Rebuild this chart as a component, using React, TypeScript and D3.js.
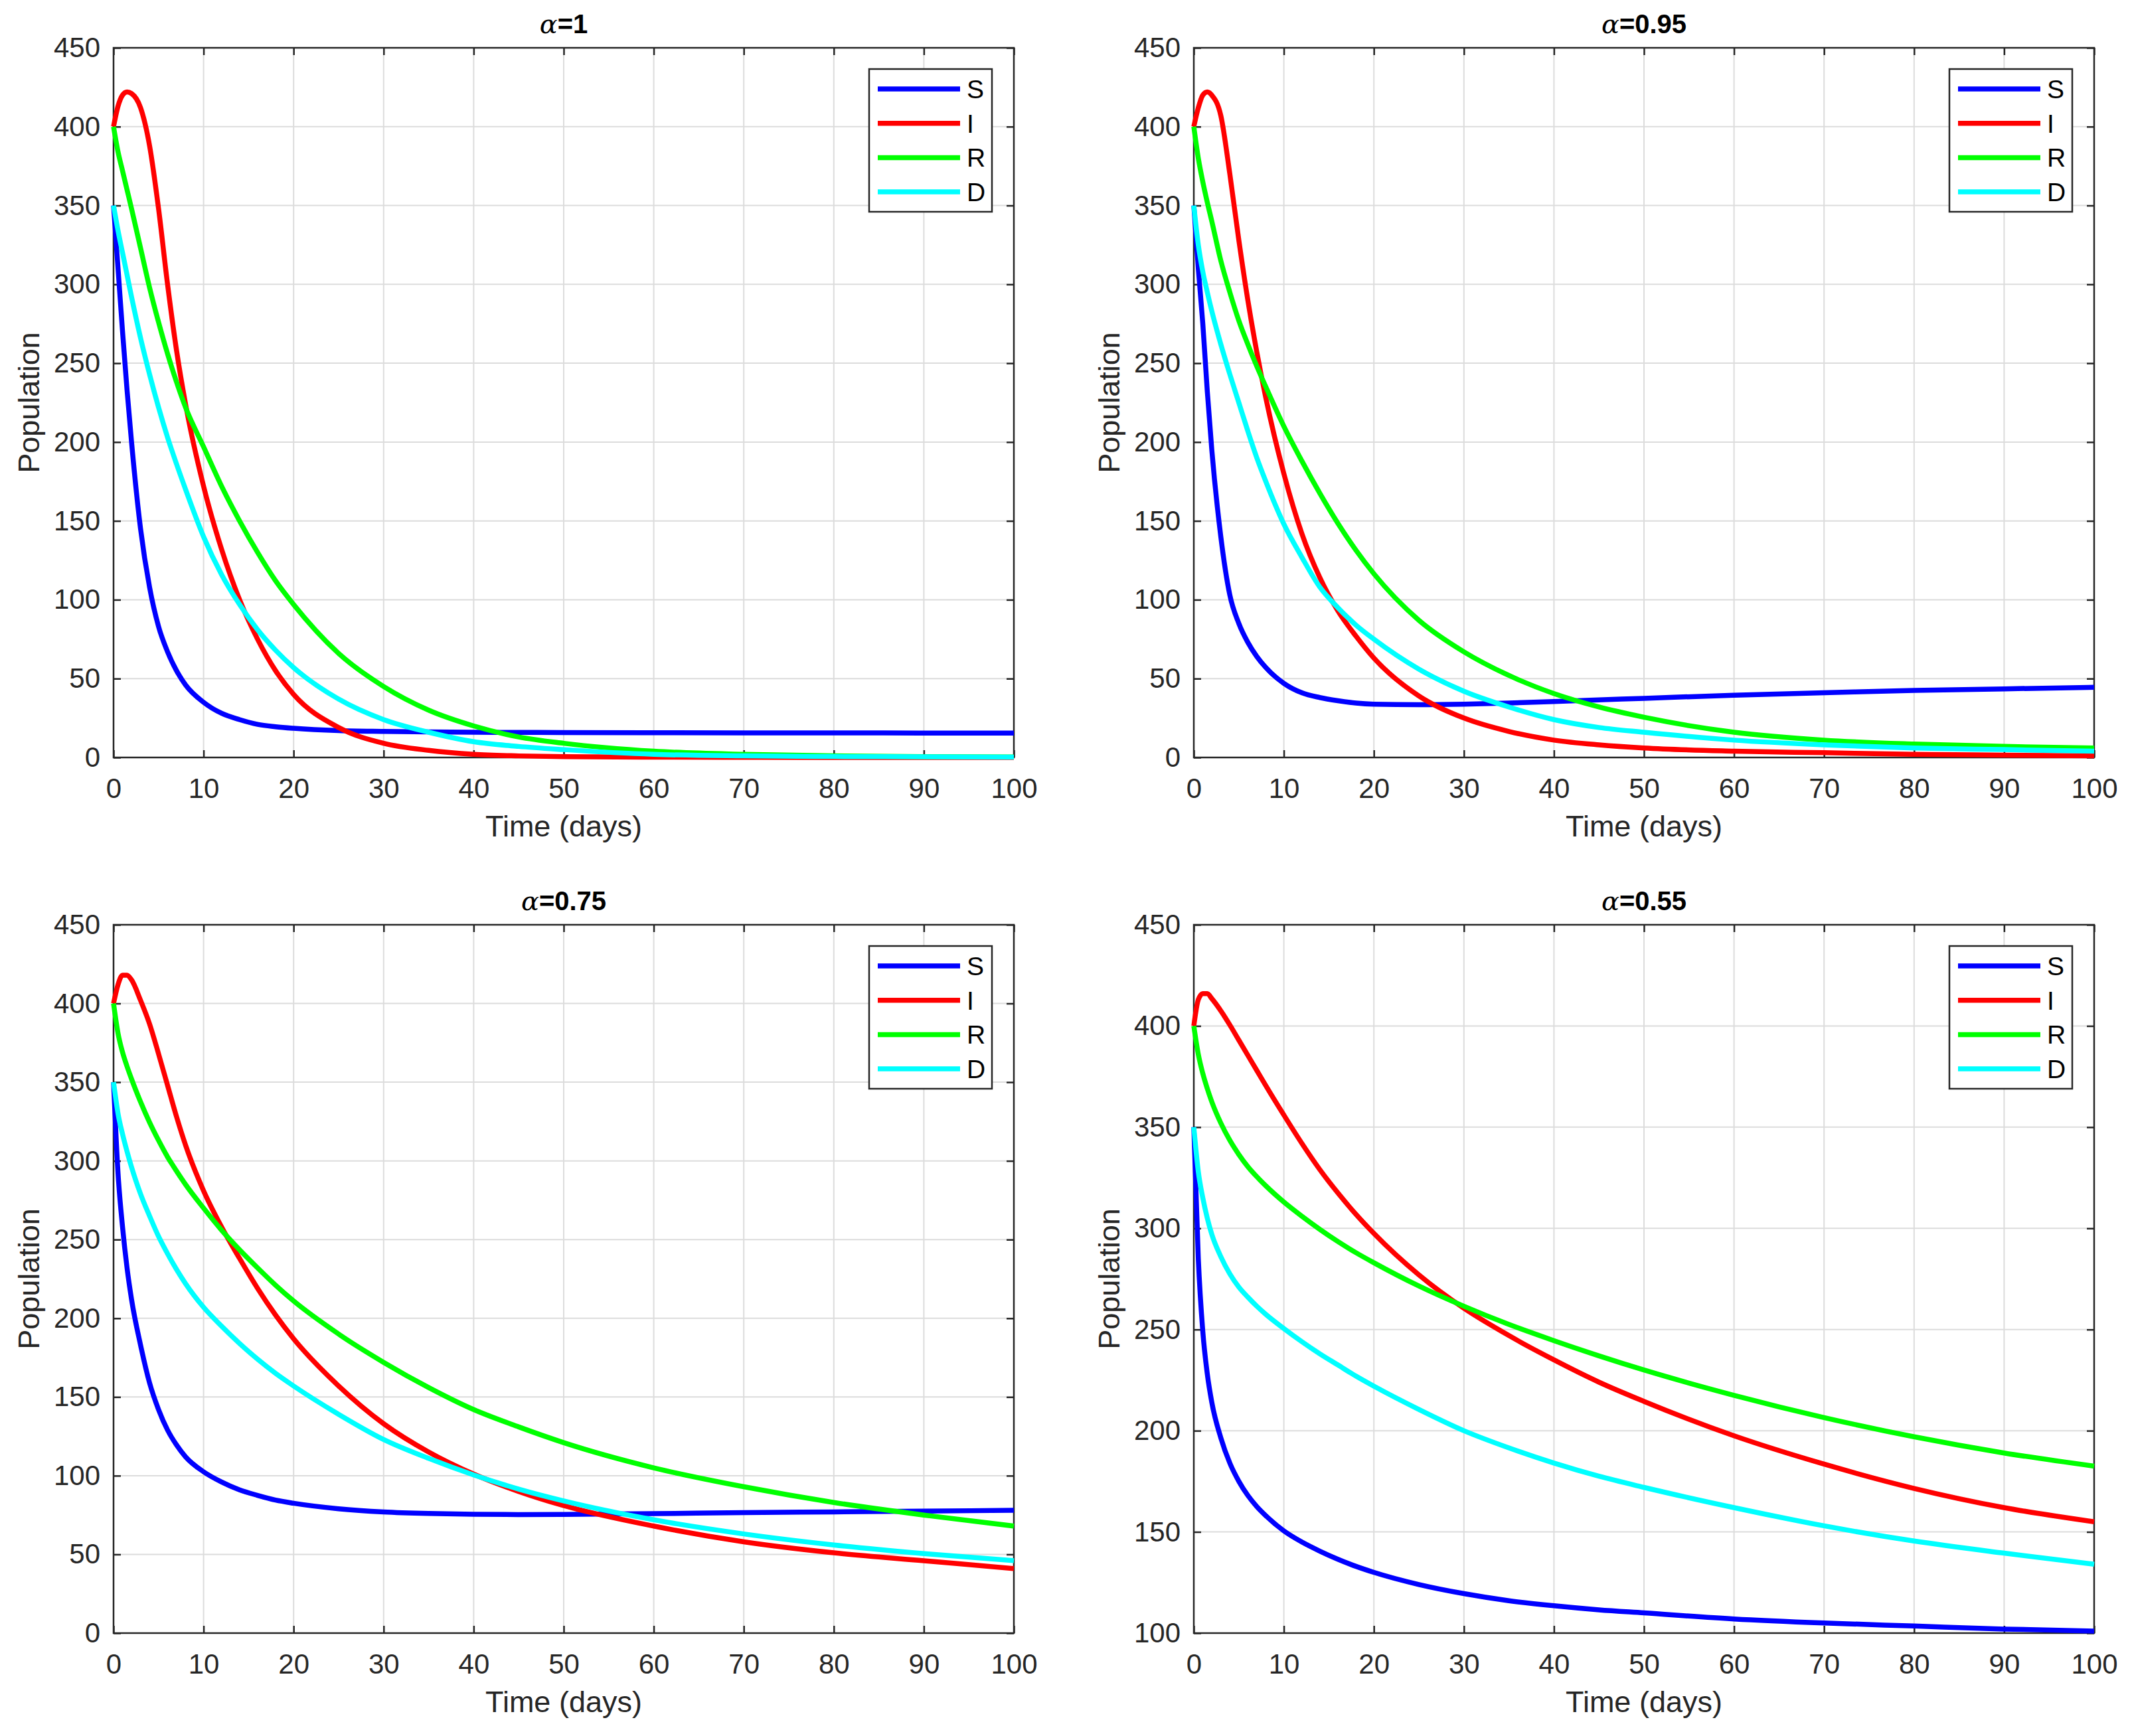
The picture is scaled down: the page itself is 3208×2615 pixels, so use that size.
import React, { useEffect, useRef } from "react";
import * as d3 from "d3";

// time grid (days) the curves were read at
const TIME = [0, 0.5, 1, 1.5, 2, 3, 4, 5, 6, 7, 8, 10, 12, 14, 16, 18, 20, 25, 30, 35, 40, 45, 50, 60, 70, 80, 90, 100];

// alpha = 1
const S_A1 = [350, 310, 270, 233, 200, 145, 108, 83, 67, 55, 46, 35, 28, 24, 21, 19.5, 18.5, 17, 16.5, 16.2, 16, 15.9, 15.8, 15.7, 15.6, 15.6, 15.5, 15.5];
const I_A1 = [400, 413, 420, 422, 421, 412, 388, 348, 300, 258, 224, 172, 132, 100, 75, 55, 40, 19, 9, 4.5, 2, 1, 0.5, 0.2, 0.1, 0, 0, 0];
const R_A1 = [400, 384, 372, 360, 348, 323, 298, 276, 256, 238, 222, 197, 172, 150, 130, 112, 97, 66, 45, 30, 20, 13, 9, 4, 2, 1, 0.5, 0.3];
const D_A1 = [350, 334, 320, 306, 292, 266, 243, 222, 203, 186, 170, 140, 116, 97, 81, 68, 57, 37, 24, 16, 10, 7, 5, 2, 1, 0.6, 0.4, 0.2];

// alpha = 0.95
const S_A2 = [350, 310, 275, 232, 195, 140, 103, 85, 73, 64, 57, 47, 41, 38, 36, 34.5, 33.8, 33.5, 33.8, 34.5, 35.5, 36.5, 37.5, 39.5, 41, 42.5, 43.5, 44.5];
const I_A2 = [400, 412, 420, 422, 420, 407, 370, 328, 290, 257, 228, 180, 142, 114, 93, 77, 63, 39, 25, 16.5, 11, 8, 6, 4, 3, 2, 1.5, 1];
const R_A2 = [400, 380, 365, 352, 340, 315, 295, 277, 262, 248, 235, 210, 188, 167.5, 148.5, 131.5, 116.5, 87, 67, 52, 40.5, 32, 25.5, 16, 11, 8.5, 7, 6];
const D_A2 = [350, 325, 308, 295, 283, 262, 243, 225, 207, 190, 175, 148, 127, 108, 95, 84, 75, 56, 42, 32, 24, 19, 16, 11, 8, 6, 5, 4];

// alpha = 0.75
const S_A3 = [350, 292, 258, 232, 212, 183, 159, 142, 129, 119.5, 112, 102.5, 96, 91, 87.5, 84.5, 82.5, 79, 77, 76, 75.5, 75.3, 75.4, 75.9, 76.5, 77, 77.5, 78];
const I_A3 = [400, 412, 418, 418, 415, 402, 387, 368, 348, 328, 310, 281, 258, 238, 219, 202, 187, 157, 133, 115, 101, 90, 81, 68, 58, 51, 46, 41];
const R_A3 = [400, 381, 369, 360, 352, 337.5, 324.5, 313, 302.5, 293.5, 285, 270, 256, 243.5, 232, 221, 211, 190, 172, 156, 142, 131, 121, 105, 93, 83, 75, 68];
const D_A3 = [350, 330, 317, 306, 296, 279, 265, 252, 241, 231, 222, 207, 195, 184, 174, 165, 157, 139, 123, 111, 100.5, 91.5, 84, 72, 63, 56, 50.5, 46];

// alpha = 0.55
const S_A4 = [350, 285, 249, 228, 214, 196.5, 184, 175, 168, 162.5, 158, 150.5, 145, 140.5, 136.5, 133, 130, 124, 119.5, 116, 113.5, 111.5, 110, 107, 105, 103.5, 102, 101];
const I_A4 = [400, 413, 416, 416, 413.5, 407.5, 400.5, 393, 385.5, 378, 370.5, 356, 342, 329, 317.5, 307, 297.5, 277, 260.5, 247, 235, 224, 214.5, 197.5, 183.5, 171.5, 162, 155];
const R_A4 = [400, 386, 376.5, 369, 362.5, 352, 343.5, 336.5, 330.5, 325.5, 321, 313, 306, 299.5, 293.5, 288, 283, 271.5, 261.5, 252.5, 244.5, 237, 230, 217.5, 206.5, 197, 189, 182.5];
const D_A4 = [350, 328, 315, 305, 297, 286, 277.5, 271, 266, 261.5, 257.5, 250.5, 244, 238, 232.5, 227, 222, 210.5, 200, 191.5, 184, 177.5, 172, 162, 153, 145.5, 139.5, 134];

const ALPHAS = ["1", "0.95", "0.75", "0.55"];
const SERIES_NAMES = ["S", "I", "R", "D"];
const SERIES_COLORS = ["#0000ff", "#ff0000", "#00ff00", "#00ffff"];
const X_TICKS = [0, 10, 20, 30, 40, 50, 60, 70, 80, 90, 100];
const Y_TICKS_FULL = [0, 50, 100, 150, 200, 250, 300, 350, 400, 450];
const Y_TICKS_HIGH = [100, 150, 200, 250, 300, 350, 400, 450];

const WIDTH = 3208;
const HEIGHT = 2615;
const FONT = "'Liberation Sans', Arial, Helvetica, sans-serif";
const AXIS_COLOR = "#262626";

const App: React.FC = () => {
  const svgRef = useRef<SVGSVGElement>(null);

  useEffect(() => {
    if (!svgRef.current) return;
    document.body.style.margin = "0";

    const svg = d3.select(svgRef.current);
    svg.selectAll("*").remove(); // Clear any previous content

    const panels = [
      { alpha: ALPHAS[0], series: [S_A1, I_A1, R_A1, D_A1], yTicks: Y_TICKS_FULL, left: 171, top: 72, height: 1069 },
      { alpha: ALPHAS[1], series: [S_A2, I_A2, R_A2, D_A2], yTicks: Y_TICKS_FULL, left: 1798, top: 72, height: 1069 },
      { alpha: ALPHAS[2], series: [S_A3, I_A3, R_A3, D_A3], yTicks: Y_TICKS_FULL, left: 171, top: 1393, height: 1067 },
      { alpha: ALPHAS[3], series: [S_A4, I_A4, R_A4, D_A4], yTicks: Y_TICKS_HIGH, left: 1798, top: 1393, height: 1067 },
    ];
    const plotWidth = 1356;

    panels.forEach((p) => {
      const x = d3.scaleLinear().domain([0, 100]).range([p.left, p.left + plotWidth]);
      const y = d3
        .scaleLinear()
        .domain([p.yTicks[0], p.yTicks[p.yTicks.length - 1]])
        .range([p.top + p.height, p.top]);
      const bottom = p.top + p.height;
      const right = p.left + plotWidth;

      const g = svg.append("g");

      // Grid
      g.selectAll(".gx")
        .data(X_TICKS.slice(1, -1))
        .enter()
        .append("line")
        .attr("x1", (d) => x(d))
        .attr("x2", (d) => x(d))
        .attr("y1", p.top)
        .attr("y2", bottom)
        .attr("stroke", "#dcdcdc")
        .attr("stroke-width", 2);
      g.selectAll(".gy")
        .data(p.yTicks.slice(1, -1))
        .enter()
        .append("line")
        .attr("x1", p.left)
        .attr("x2", right)
        .attr("y1", (d) => y(d))
        .attr("y2", (d) => y(d))
        .attr("stroke", "#dcdcdc")
        .attr("stroke-width", 2);

      // Axes (ticks inward on all four sides)
      const styleAxis = (sel: d3.Selection<SVGGElement, unknown, null, undefined>) => {
        sel.select(".domain").remove();
        sel.selectAll("line").attr("stroke", AXIS_COLOR).attr("stroke-width", 2.5);
        sel
          .selectAll("text")
          .attr("fill", AXIS_COLOR)
          .style("font-family", FONT)
          .style("font-size", "42px");
      };

      g.append("g")
        .attr("transform", `translate(0,${bottom})`)
        .call(d3.axisBottom(x).tickValues(X_TICKS).tickSize(-11).tickPadding(31))
        .call(styleAxis);
      g.append("g")
        .attr("transform", `translate(0,${p.top})`)
        .call(d3.axisTop(x).tickValues(X_TICKS).tickSize(-11).tickFormat(() => ""))
        .call(styleAxis);
      g.append("g")
        .attr("transform", `translate(${p.left},0)`)
        .call(d3.axisLeft(y).tickValues(p.yTicks).tickSize(-11).tickPadding(20))
        .call(styleAxis);
      g.append("g")
        .attr("transform", `translate(${right},0)`)
        .call(d3.axisRight(y).tickValues(p.yTicks).tickSize(-11).tickFormat(() => ""))
        .call(styleAxis);

      // Box
      g.append("rect")
        .attr("x", p.left)
        .attr("y", p.top)
        .attr("width", plotWidth)
        .attr("height", p.height)
        .attr("fill", "none")
        .attr("stroke", AXIS_COLOR)
        .attr("stroke-width", 2.5);

      // Curves
      const line = d3
        .line<number>()
        .x((_, i) => x(TIME[i]))
        .y((d) => y(d))
        .curve(d3.curveMonotoneX);

      p.series.forEach((values, i) => {
        g.append("path")
          .datum(values)
          .attr("d", line)
          .attr("fill", "none")
          .attr("stroke", SERIES_COLORS[i])
          .attr("stroke-width", 7.5)
          .attr("stroke-linejoin", "round");
      });

      // Title
      const title = g
        .append("text")
        .attr("x", p.left + plotWidth / 2)
        .attr("y", p.top - 22)
        .attr("text-anchor", "middle")
        .style("font-family", FONT)
        .style("font-size", "40px")
        .attr("fill", "#000");
      title.append("tspan").attr("font-style", "italic").attr("font-family", "'DejaVu Serif', serif").text("α");
      title.append("tspan").attr("font-weight", "bold").text(`=${p.alpha}`);

      // Axis labels
      g.append("text")
        .attr("x", p.left + plotWidth / 2)
        .attr("y", bottom + 119)
        .attr("text-anchor", "middle")
        .style("font-family", FONT)
        .style("font-size", "45px")
        .attr("fill", AXIS_COLOR)
        .text("Time (days)");
      g.append("text")
        .attr("transform", `translate(${p.left - 128},${p.top + p.height / 2}) rotate(-90)`)
        .attr("text-anchor", "middle")
        .attr("dy", "0.35em")
        .style("font-family", FONT)
        .style("font-size", "45px")
        .attr("fill", AXIS_COLOR)
        .text("Population");

      // Legend
      const lx = right - 218;
      const ly = p.top + 32;
      const legend = g.append("g");
      legend
        .append("rect")
        .attr("x", lx)
        .attr("y", ly)
        .attr("width", 185)
        .attr("height", 215)
        .attr("fill", "#fff")
        .attr("stroke", AXIS_COLOR)
        .attr("stroke-width", 2.5);
      SERIES_NAMES.forEach((name, i) => {
        const yy = ly + 30 + i * 51.7;
        legend
          .append("line")
          .attr("x1", lx + 13)
          .attr("x2", lx + 137)
          .attr("y1", yy)
          .attr("y2", yy)
          .attr("stroke", SERIES_COLORS[i])
          .attr("stroke-width", 7.5);
        legend
          .append("text")
          .attr("x", lx + 147)
          .attr("y", yy)
          .attr("dy", "0.36em")
          .style("font-family", FONT)
          .style("font-size", "39px")
          .attr("fill", "#000")
          .text(name);
      });
    });
  }, []);

  return <svg ref={svgRef} width={WIDTH} height={HEIGHT} style={{ display: "block", background: "#fff" }} />;
};

export default App;
